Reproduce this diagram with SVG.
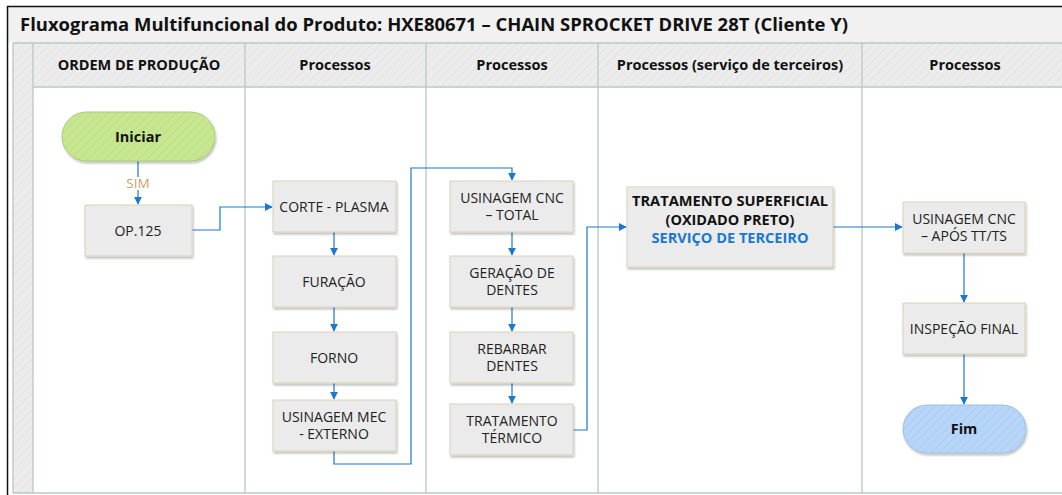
<svg xmlns="http://www.w3.org/2000/svg" width="1062" height="495" viewBox="0 0 1062 495">
<defs>
<pattern id="hatch" width="6" height="6" patternUnits="userSpaceOnUse" patternTransform="rotate(45)">
<rect width="6" height="6" fill="#ececec"/>
<line x1="0" y1="0" x2="0" y2="6" stroke="#e4e4e4" stroke-width="2"/>
</pattern>
<pattern id="hgreen" width="6" height="6" patternUnits="userSpaceOnUse" patternTransform="rotate(45)">
<rect width="6" height="6" fill="#c6e690"/>
<line x1="0" y1="0" x2="0" y2="6" stroke="#bedd86" stroke-width="2"/>
</pattern>
<pattern id="hblue" width="6" height="6" patternUnits="userSpaceOnUse" patternTransform="rotate(45)">
<rect width="6" height="6" fill="#b7d5f8"/>
<line x1="0" y1="0" x2="0" y2="6" stroke="#abcdf3" stroke-width="2"/>
</pattern>
<filter id="sh" x="-10%" y="-10%" width="125%" height="130%">
<feDropShadow dx="1" dy="2" stdDeviation="1.2" flood-color="#000" flood-opacity="0.25"/>
</filter>
<marker id="arr" viewBox="0 0 10 10" refX="9" refY="5" markerWidth="8" markerHeight="8" markerUnits="userSpaceOnUse" orient="auto">
<path d="M0,0 L10,5 L0,10 z" fill="#1a78d0"/>
</marker>
</defs>
<style>
.lane{fill:none;stroke:#b9c9c3;stroke-width:1.3}
.hdr{font-family:"Open Sans","Noto Sans",sans-serif;font-weight:bold;font-size:14.5px;fill:#111;text-anchor:middle}
.box{fill:#ebebeb;stroke:#d9d2b8;stroke-width:1;filter:url(#sh)}
.t{font-family:"Open Sans","Noto Sans",sans-serif;font-size:14px;fill:#222;text-anchor:middle}
.tb{font-family:"Open Sans","Noto Sans",sans-serif;font-size:14.5px;font-weight:bold;fill:#111;text-anchor:middle}
.ts{font-family:"Open Sans","Noto Sans",sans-serif;font-size:13.5px;font-weight:bold;fill:#111;text-anchor:middle}
.c{fill:none;stroke:#1a78d0;stroke-width:1.2;marker-end:url(#arr)}
</style>
<rect x="0" y="0" width="1062" height="495" fill="#ffffff"/>
<g id="frame">
<rect x="8" y="7" width="1060" height="36" fill="#f1f1f1"/>
<line x1="7.5" y1="6" x2="7.5" y2="495" stroke="#111" stroke-width="1.5"/>
<line x1="7" y1="6.5" x2="1062" y2="6.5" stroke="#111" stroke-width="1.5"/>
<text x="20" y="31" font-family="'Open Sans','Noto Sans',sans-serif" font-weight="bold" font-size="17" fill="#111" textLength="828" lengthAdjust="spacingAndGlyphs">Fluxograma Multifuncional do Produto: HXE80671 – CHAIN SPROCKET DRIVE 28T (Cliente Y)</text>
<rect x="13" y="43" width="20" height="450" fill="url(#hatch)"/>
<rect x="33" y="43" width="1035" height="44" fill="url(#hatch)"/>
<line class="lane" x1="13" y1="43" x2="1062" y2="43"/>
<line class="lane" x1="13" y1="43" x2="13" y2="493"/>
<line class="lane" x1="33" y1="43" x2="33" y2="493"/>
<line class="lane" x1="33" y1="87" x2="1062" y2="87"/>
<line class="lane" x1="245" y1="43" x2="245" y2="493"/>
<line class="lane" x1="426" y1="43" x2="426" y2="493"/>
<line class="lane" x1="598" y1="43" x2="598" y2="493"/>
<line class="lane" x1="862" y1="43" x2="862" y2="493"/>
<line class="lane" x1="13" y1="493" x2="1062" y2="493"/>
<text class="hdr" x="139" y="70">ORDEM DE PRODUÇÃO</text>
<text class="hdr" x="335" y="70">Processos</text>
<text class="hdr" x="512" y="70">Processos</text>
<text class="hdr" x="730" y="70">Processos (serviço de terceiros)</text>
<text class="hdr" x="965" y="70">Processos</text>
</g>
<g id="connectors">
<path class="c" d="M138,161 V204"/>
<text x="138" y="188" font-family="'Open Sans','Noto Sans',sans-serif" font-size="13.5" fill="#c2a468" text-anchor="middle" stroke="#ffffff" stroke-width="4" paint-order="stroke">SIM</text>
<path class="c" d="M192,230 H220 V207 H272"/>
<path class="c" d="M334,232 V255"/>
<path class="c" d="M334,307 V331"/>
<path class="c" d="M334,383 V399"/>
<path class="c" d="M334,451 V464 H411 V168 H512 V180"/>
<path class="c" d="M512,232 V255"/>
<path class="c" d="M512,307 V331"/>
<path class="c" d="M512,383 V403"/>
<path class="c" d="M573,430 H587 V227 H626"/>
<path class="c" d="M833,227 H902"/>
<path class="c" d="M964,253 V302"/>
<path class="c" d="M964,354 V404"/>
</g>
<g id="n-iniciar">
<rect x="62" y="112" width="153" height="49" rx="24.5" fill="url(#hgreen)" stroke="#a9c97a" stroke-width="1" filter="url(#sh)"/>
<text class="tb" x="138" y="142">Iniciar</text>
</g>
<g id="n-op125">
<rect class="box" x="85" y="205" width="107" height="51"/>
<text class="t" x="138" y="236">OP.125</text>
</g>
<g id="n-corte">
<rect class="box" x="273" y="181" width="123" height="51"/>
<text class="t" x="334" y="212">CORTE - PLASMA</text>
</g>
<g id="n-furacao">
<rect class="box" x="273" y="256" width="123" height="51"/>
<text class="t" x="334" y="287">FURAÇÃO</text>
</g>
<g id="n-forno">
<rect class="box" x="273" y="332" width="123" height="51"/>
<text class="t" x="334" y="363">FORNO</text>
</g>
<g id="n-usimec">
<rect class="box" x="273" y="400" width="123" height="51"/>
<text class="t" x="334" y="422">USINAGEM MEC</text>
<text class="t" x="334" y="439">- EXTERNO</text>
</g>
<g id="n-cnctotal">
<rect class="box" x="450" y="181" width="123" height="51"/>
<text class="t" x="512" y="203">USINAGEM CNC</text>
<text class="t" x="512" y="220">– TOTAL</text>
</g>
<g id="n-geracao">
<rect class="box" x="450" y="256" width="123" height="51"/>
<text class="t" x="512" y="278">GERAÇÃO DE</text>
<text class="t" x="512" y="295">DENTES</text>
</g>
<g id="n-rebarbar">
<rect class="box" x="450" y="332" width="123" height="51"/>
<text class="t" x="512" y="354">REBARBAR</text>
<text class="t" x="512" y="371">DENTES</text>
</g>
<g id="n-termico">
<rect class="box" x="450" y="404" width="123" height="51"/>
<text class="t" x="512" y="426">TRATAMENTO</text>
<text class="t" x="512" y="443">TÉRMICO</text>
</g>
<g id="n-superficial">
<rect class="box" x="627" y="187" width="206" height="80"/>
<text class="ts" x="730" y="206" textLength="196" lengthAdjust="spacingAndGlyphs">TRATAMENTO SUPERFICIAL</text>
<text class="ts" x="730" y="224.5" textLength="129" lengthAdjust="spacingAndGlyphs">(OXIDADO PRETO)</text>
<text class="ts" x="730" y="243" textLength="157" lengthAdjust="spacingAndGlyphs" style="fill:#1a78d0">SERVIÇO DE TERCEIRO</text>
</g>
<g id="n-aposttts">
<rect class="box" x="903" y="202" width="122" height="51"/>
<text class="t" x="964" y="224">USINAGEM CNC</text>
<text class="t" x="964" y="241">– APÓS TT/TS</text>
</g>
<g id="n-inspecao">
<rect class="box" x="903" y="303" width="122" height="51"/>
<text class="t" x="964" y="334">INSPEÇÃO FINAL</text>
</g>
<g id="n-fim">
<rect x="903" y="405" width="123" height="48" rx="24" fill="url(#hblue)" stroke="#9fbfdf" stroke-width="1" filter="url(#sh)"/>
<text class="tb" x="964" y="434">Fim</text>
</g>
</svg>
